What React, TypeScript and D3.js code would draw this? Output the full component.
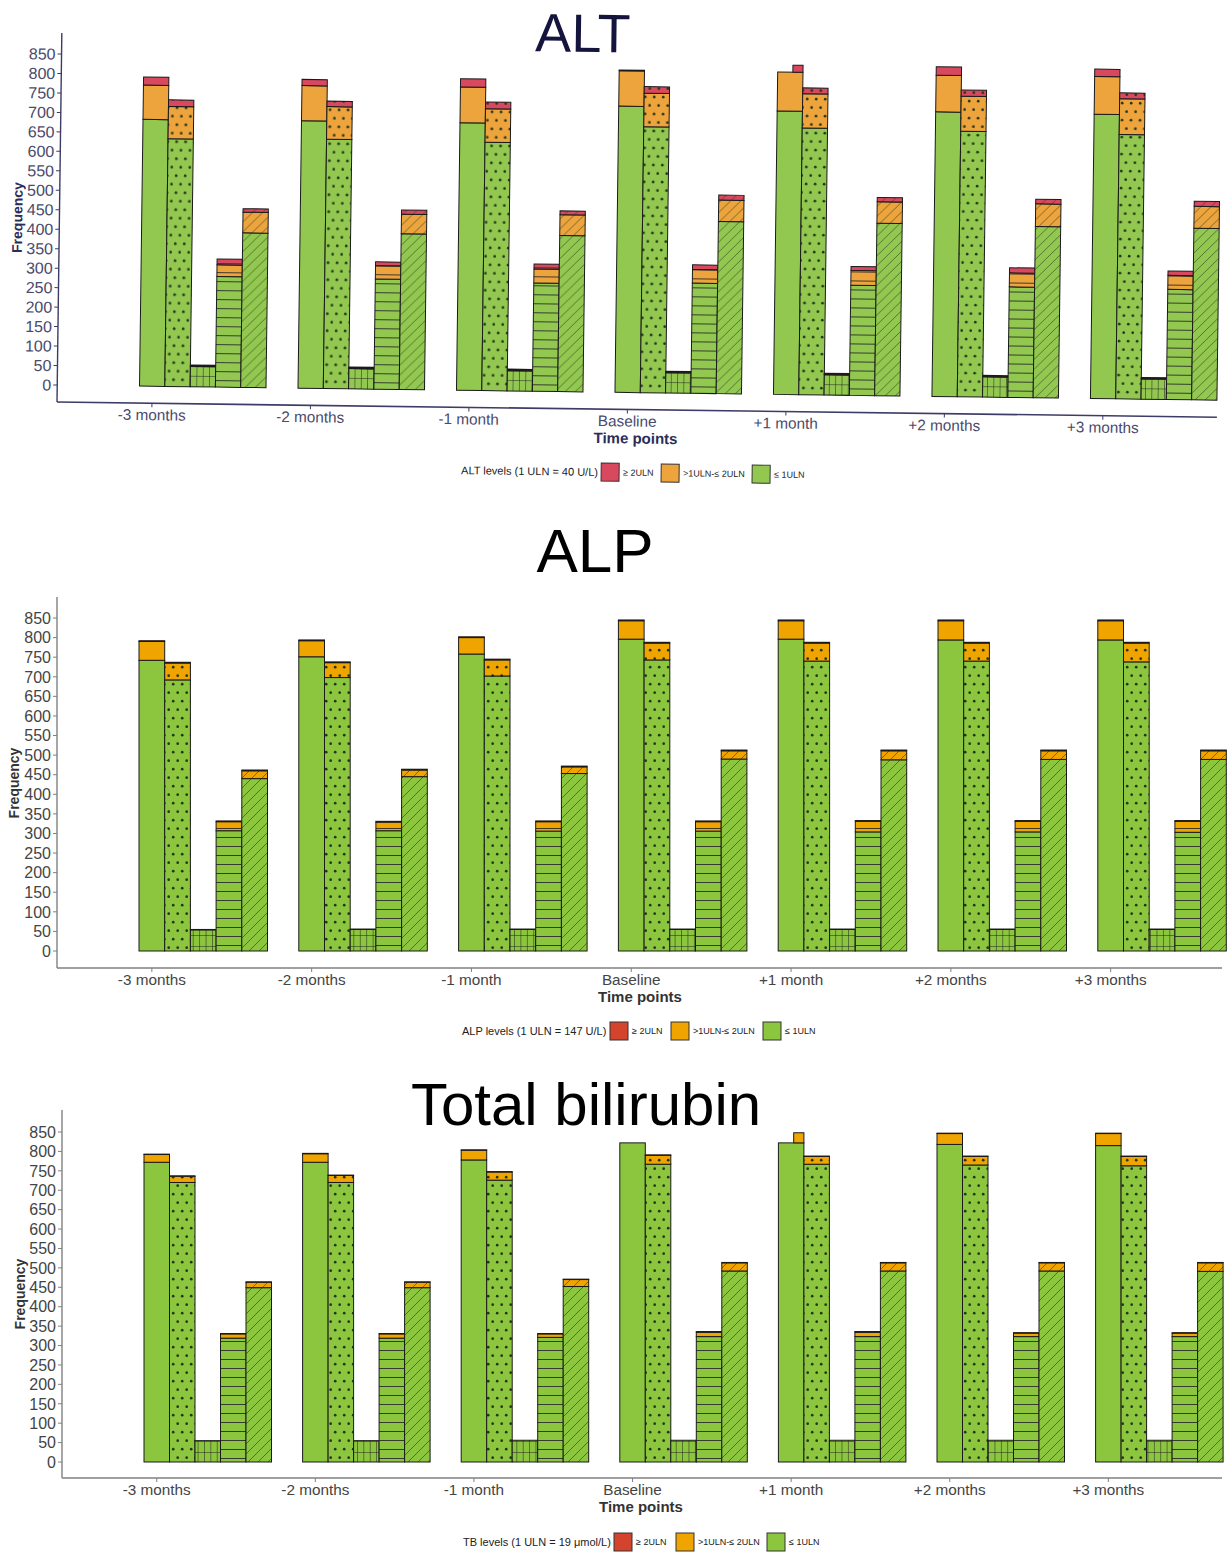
import React from 'react';
import * as d3 from 'd3';

const timePoints = ['-3 months', '-2 months', '-1 month', 'Baseline', '+1 month', '+2 months', '+3 months'];
const barTypes = ['solid', 'dots', 'grid', 'hlines', 'diag'];
const yTicks = [0, 50, 100, 150, 200, 250, 300, 350, 400, 450, 500, 550, 600, 650, 700, 750, 800, 850];
const levelLabels = ['≥ 2ULN', '>1ULN-≤ 2ULN', '≤ 1ULN'];

// ALT: rows = time points, columns = bar types
const altLow = [
  [685, 636, 52, 284, 397],
  [687, 640, 52, 283, 400],
  [687, 638, 52, 278, 401],
  [735, 683, 52, 283, 442],
  [728, 685, 52, 283, 443],
  [731, 682, 52, 284, 440],
  [730, 679, 52, 283, 441],
];
const altMid = [
  [88, 83, 2, 30, 53],
  [90, 84, 2, 34, 50],
  [92, 86, 2, 36, 53],
  [91, 86, 2, 35, 55],
  [100, 88, 2, 38, 55],
  [94, 90, 2, 36, 58],
  [97, 92, 2, 36, 56],
];
const altHigh = [
  [21, 17, 2, 15, 9],
  [16, 14, 2, 10, 11],
  [21, 17, 2, 13, 10],
  [2, 17, 2, 12, 13],
  [0, 15, 2, 10, 11],
  [22, 16, 2, 13, 12],
  [19, 15, 2, 11, 13],
];
const altPartial = [0, 0, 0, 0, 18, 0, 0];

// ALP
const alpLow = [
  [742, 692, 54, 307, 440],
  [751, 698, 55, 307, 445],
  [758, 702, 55, 306, 453],
  [796, 743, 55, 306, 490],
  [796, 740, 55, 304, 488],
  [794, 740, 55, 304, 489],
  [794, 738, 55, 303, 489],
];
const alpMid = [
  [48, 43, 0, 23, 20],
  [41, 38, 0, 22, 17],
  [42, 41, 0, 24, 17],
  [47, 43, 0, 24, 21],
  [47, 46, 0, 27, 23],
  [49, 46, 0, 27, 22],
  [49, 48, 0, 28, 22],
];
const alpHigh = [
  [2, 2, 1, 2, 2],
  [2, 2, 1, 2, 2],
  [2, 2, 1, 2, 2],
  [2, 2, 1, 2, 2],
  [2, 2, 1, 2, 2],
  [2, 2, 1, 2, 2],
  [2, 2, 1, 2, 2],
];
const alpPartial = [0, 0, 0, 0, 0, 0, 0];

// Total bilirubin
const tbLow = [
  [772, 720, 55, 319, 449],
  [772, 720, 55, 319, 449],
  [778, 726, 56, 321, 452],
  [822, 767, 56, 323, 492],
  [822, 767, 56, 323, 492],
  [818, 765, 56, 323, 492],
  [815, 763, 56, 323, 491],
];
const tbMid = [
  [20, 16, 0, 11, 14],
  [22, 18, 0, 11, 14],
  [25, 21, 0, 9, 18],
  [0, 23, 0, 12, 21],
  [0, 20, 0, 12, 21],
  [28, 22, 0, 9, 21],
  [31, 24, 0, 9, 22],
];
const tbHigh = [
  [1, 1, 0, 1, 1],
  [1, 1, 0, 1, 1],
  [1, 1, 0, 1, 1],
  [0, 1, 0, 1, 1],
  [0, 1, 0, 1, 1],
  [1, 1, 0, 1, 1],
  [1, 1, 0, 1, 1],
];
const tbPartial = [0, 0, 0, 0, 26, 0, 0];

const FONT = '"Liberation Sans", Arial, Helvetica, sans-serif';

const panels = [
  {
    id: 'alt', title: 'ALT', titleX: 578, titleY: 45, titleSize: 54, titleColor: '#14143c',
    axisX: 57, y0: 385, y850: 54, axisTop: 33, xAxisY: 402, xAxisRight: 1217,
    xStart: 139.3, step: 158.5, barW: 25.3,
    axisColor: '#3c3c66', tickColor: '#4a4a6c', labelColor: '#2c2c58',
    freqX: 15, freqY: 218, timeX: 636,
    legendY: 465, legendTextX: 462, legendBoxes: [602, 662, 753],
    legendTitle: 'ALT levels (1 ULN = 40 U/L)',
    colors: ['#d8485f', '#eea43c', '#92c850'],
    rotate: 0.75,
    low: altLow, mid: altMid, high: altHigh, partial: altPartial, partialLevel: 2,
  },
  {
    id: 'alp', title: 'ALP', titleX: 595, titleY: 572, titleSize: 62, titleColor: '#000',
    axisX: 57, y0: 951, y850: 618, axisTop: 597, xAxisY: 968, xAxisRight: 1222,
    xStart: 139, step: 159.8, barW: 25.7,
    axisColor: '#808080', tickColor: '#444', labelColor: '#333',
    freqX: 14, freqY: 783, timeX: 640,
    legendY: 1031, legendTextX: 462, legendBoxes: [610, 671, 763],
    legendTitle: 'ALP levels (1 ULN = 147 U/L)',
    colors: ['#d4432c', '#f0a400', '#8cc63e'],
    rotate: 0,
    low: alpLow, mid: alpMid, high: alpHigh, partial: alpPartial, partialLevel: 2,
  },
  {
    id: 'tb', title: 'Total bilirubin', titleX: 586, titleY: 1125, titleSize: 60, titleColor: '#000',
    axisX: 62, y0: 1462, y850: 1132, axisTop: 1110, xAxisY: 1478, xAxisRight: 1222,
    xStart: 144, step: 158.6, barW: 25.5,
    axisColor: '#808080', tickColor: '#444', labelColor: '#333',
    freqX: 20, freqY: 1294, timeX: 641,
    legendY: 1542, legendTextX: 463, legendBoxes: [614, 676, 767],
    legendTitle: 'TB levels (1 ULN = 19 μmol/L)',
    colors: ['#d4432c', '#f0a400', '#8cc63e'],
    rotate: 0,
    low: tbLow, mid: tbMid, high: tbHigh, partial: tbPartial, partialLevel: 1,
  },
];

function Panel({ p }: { p: any }) {
  const y = d3.scaleLinear().domain([0, 850]).range([p.y0, p.y850]);
  const bw = p.barW;
  const x = d3
    .scaleBand()
    .domain(timePoints)
    .range([p.xStart, p.xStart + 6 * p.step + 5 * bw])
    .paddingInner(1 - (5 * bw) / p.step)
    .paddingOuter(0);
  const xi = d3.scaleBand().domain(barTypes).range([0, x.bandwidth()]);
  const stroke = '#1a1a1a';
  const lowC = p.colors[2], midC = p.colors[1], highC = p.colors[0];

  const bars: any[] = [];
  timePoints.forEach((tp, i) => {
    barTypes.forEach((bt, j) => {
      const vals = [p.low[i][j], p.mid[i][j], p.high[i][j]];
      const cols = [lowC, midC, highC];
      let cum = 0;
      const x0 = (x(tp) as number) + (xi(bt) as number);
      vals.forEach((v, k) => {
        if (v <= 0) return;
        const yTop = y(cum + v), yBot = y(cum);
        bars.push(
          <g key={`${tp}-${bt}-${k}`}>
            <rect x={x0} y={yTop} width={xi.bandwidth()} height={yBot - yTop} fill={cols[k]} />
            {bt !== 'solid' && (
              <rect x={x0} y={yTop} width={xi.bandwidth()} height={yBot - yTop} fill={`url(#${p.id}-${bt})`} />
            )}
            <rect x={x0} y={yTop} width={xi.bandwidth()} height={yBot - yTop} fill="none" stroke={stroke} strokeWidth={1} />
          </g>
        );
        cum += v;
      });
      if (j === 0 && p.partial[i] > 0) {
        const yTop = y(cum + p.partial[i]), yBot = y(cum);
        const pw = xi.bandwidth() * 0.4;
        bars.push(
          <rect key={`${tp}-partial`} x={x0 + xi.bandwidth() - pw} y={yTop} width={pw} height={yBot - yTop}
            fill={p.partialLevel === 2 ? highC : midC} stroke={stroke} strokeWidth={1} />
        );
      }
    });
  });

  const legendColors = [highC, midC, lowC];
  const transform = p.rotate ? `rotate(${p.rotate} ${p.axisX} ${p.xAxisY})` : undefined;

  return (
    <g transform={transform} fontFamily={FONT}>
      <defs>
        <pattern id={`${p.id}-dots`} patternUnits="userSpaceOnUse" width={9} height={17}>
          <circle cx={2.2} cy={4.2} r={1.35} fill="#263418" />
          <circle cx={6.7} cy={12.7} r={1.35} fill="#263418" />
        </pattern>
        <pattern id={`${p.id}-grid`} patternUnits="userSpaceOnUse" width={bw / 4} height={11}>
          <path d={`M0,0 V11 M0,0 H${bw / 4}`} stroke="#1f1f1f" strokeWidth={1} fill="none" />
        </pattern>
        <pattern id={`${p.id}-hlines`} patternUnits="userSpaceOnUse" width={10} height={9}>
          <path d="M0,0.5 H10" stroke="#2b2b2b" strokeWidth={0.9} fill="none" />
        </pattern>
        <pattern id={`${p.id}-diag`} patternUnits="userSpaceOnUse" width={10} height={10}>
          <path d="M0,10 L10,0 M-2,2 L2,-2 M8,12 L12,8" stroke="#2d4420" strokeWidth={0.75} fill="none" opacity={0.85} />
        </pattern>
      </defs>

      <text x={p.titleX} y={p.titleY} textAnchor="middle" fontSize={p.titleSize} fill={p.titleColor}>
        {p.title}
      </text>

      {/* axes */}
      <line x1={p.axisX} x2={p.axisX} y1={p.axisTop} y2={p.xAxisY} stroke={p.axisColor} strokeWidth={1.4} />
      <line x1={p.axisX} x2={p.xAxisRight} y1={p.xAxisY} y2={p.xAxisY} stroke={p.axisColor} strokeWidth={1.6} />
      {yTicks.map((t) => (
        <g key={t}>
          <line x1={p.axisX - 4} x2={p.axisX} y1={y(t)} y2={y(t)} stroke={p.axisColor} strokeWidth={1} />
          <text x={p.axisX - 6} y={y(t)} dy="0.36em" textAnchor="end" fontSize={16} fill={p.tickColor}>
            {t}
          </text>
        </g>
      ))}
      {timePoints.map((tp) => {
        const cx = (x(tp) as number) + xi.bandwidth() / 2;
        return (
          <g key={tp}>
            <line x1={cx} x2={cx} y1={p.xAxisY} y2={p.xAxisY + 4} stroke={p.axisColor} strokeWidth={1} />
            <text x={cx} y={p.xAxisY + 17} textAnchor="middle" fontSize={15.3} fill={p.tickColor}>
              {tp}
            </text>
          </g>
        );
      })}
      <text x={p.timeX} y={p.xAxisY + 34} textAnchor="middle" fontSize={15} fontWeight="bold" fill={p.labelColor}>
        Time points
      </text>
      <text transform={`translate(${p.freqX},${p.freqY}) rotate(-90)`} dy="0.35em" textAnchor="middle"
        fontSize={14} fontWeight="bold" fill={p.labelColor}>
        Frequency
      </text>

      {bars}

      {/* legend */}
      <text x={p.legendTextX} y={p.legendY} dy="0.35em" fontSize={11} fill="#222">
        {p.legendTitle}
      </text>
      {levelLabels.map((lab, k) => (
        <g key={lab}>
          <rect x={p.legendBoxes[k]} y={p.legendY - 9} width={18} height={18} fill={legendColors[k]} stroke="#333" strokeWidth={1} />
          <text x={p.legendBoxes[k] + 22} y={p.legendY} dy="0.35em" fontSize={9} fill="#222">
            {lab}
          </text>
        </g>
      ))}
    </g>
  );
}

export default function App() {
  return (
    <svg width={1227} height={1553} style={{ position: 'absolute', left: 0, top: 0, background: '#fff' }}>
      <rect width={1227} height={1553} fill="#fff" />
      {panels.map((p) => (
        <Panel key={p.id} p={p} />
      ))}
    </svg>
  );
}
